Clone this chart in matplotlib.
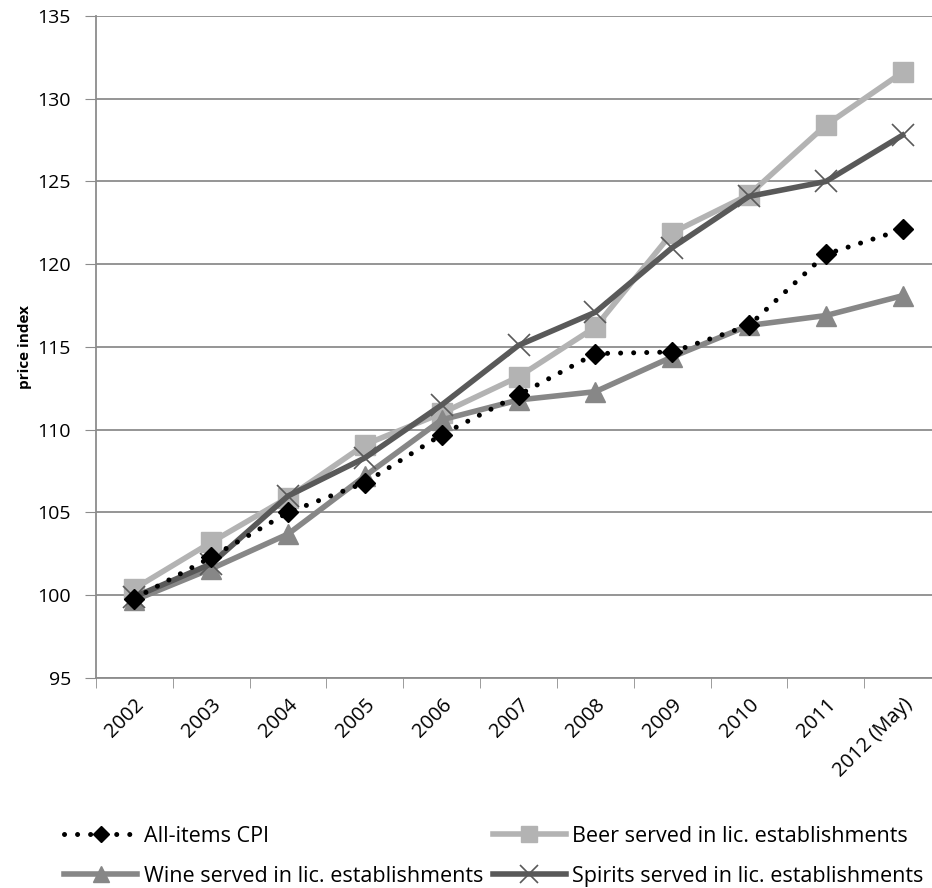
import numpy as np
import matplotlib
matplotlib.use("Agg")
import matplotlib.pyplot as plt

plt.rcParams['font.family'] = ['Open Sans', 'DejaVu Sans']

years = ["2002", "2003", "2004", "2005", "2006", "2007", "2008",
         "2009", "2010", "2011", "2012 (May)"]

cpi = [99.8, 102.3, 105.0, 106.8, 109.7, 112.1, 114.6, 114.7, 116.3, 120.6, 122.1]
beer = [100.4, 103.2, 105.9, 109.1, 111.0, 113.2, 116.2, 121.9, 124.2, 128.4, 131.6]
wine = [99.7, 101.6, 103.7, 107.2, 110.6, 111.8, 112.3, 114.4, 116.3, 116.9, 118.1]
spirits = [99.9, 101.9, 106.0, 108.3, 111.5, 115.1, 117.1, 121.0, 124.1, 125.0, 127.8]

fig = plt.figure(figsize=(9.32, 8.88), dpi=100)
# plot area runs past the right edge, as in the original export
ax = fig.add_axes([96/932, 1-678/888, 845/932, 662/888])

x = np.arange(len(years))

grid_col = "#8c8c8c"
l_cpi, = ax.plot(x, cpi, color="black", linestyle=(0, (0.01, 2.6)), linewidth=3.6,
                 dash_capstyle="round", marker="D", markersize=10,
                 markerfacecolor="black", markeredgecolor="black", zorder=6,
                 label="All-items CPI")
l_beer, = ax.plot(x, beer, color="#b3b3b3", linewidth=4, marker="s", markersize=14,
                  markerfacecolor="#b3b3b3", markeredgecolor="#b3b3b3", zorder=3,
                  label="Beer served in lic. establishments")
l_wine, = ax.plot(x, wine, color="#878787", linewidth=4, marker="^", markersize=14,
                  markerfacecolor="#878787", markeredgecolor="#878787", zorder=4,
                  label="Wine served in lic. establishments")
l_spir, = ax.plot(x, spirits, color="#595959", linewidth=4, marker="x", markersize=16,
                  markeredgewidth=1.2, markeredgecolor="#595959", zorder=5,
                  label="Spirits served in lic. establishments")

ax.set_xlim(-0.5, len(years) - 0.5)
ax.set_ylim(95, 135)
ax.set_yticks(np.arange(95, 136, 5))
ax.tick_params(axis="y", labelsize=14, length=8, color=grid_col, pad=10)
ax.yaxis.grid(True, color=grid_col, linewidth=1.3)
ax.set_axisbelow(True)

ax.set_xticks(x)
ax.set_xticklabels(years, rotation=45, ha="right", rotation_mode="anchor", fontsize=14.5)
ax.tick_params(axis="x", which="major", length=0, pad=12)
ax.set_xticks(np.arange(-0.5, len(years), 1), minor=True)
ax.tick_params(axis="x", which="minor", length=7, color=grid_col)

for s in ["top", "right"]:
    ax.spines[s].set_visible(False)
for s in ["left", "bottom"]:
    ax.spines[s].set_color(grid_col)
    ax.spines[s].set_linewidth(1.3)

ax.set_ylabel("price index", fontsize=11, fontweight="bold", labelpad=4)

fig.legend(handles=[l_cpi, l_wine, l_beer, l_spir], ncol=2, loc="lower left",
           bbox_to_anchor=(64/932, 1/888), frameon=False, fontsize=15.5,
           borderpad=0, borderaxespad=0, markerscale=0.8,
           handlelength=3.4, labelspacing=0.9, columnspacing=0.45, handletextpad=0.3)

fig.savefig("out.png", dpi=100)
